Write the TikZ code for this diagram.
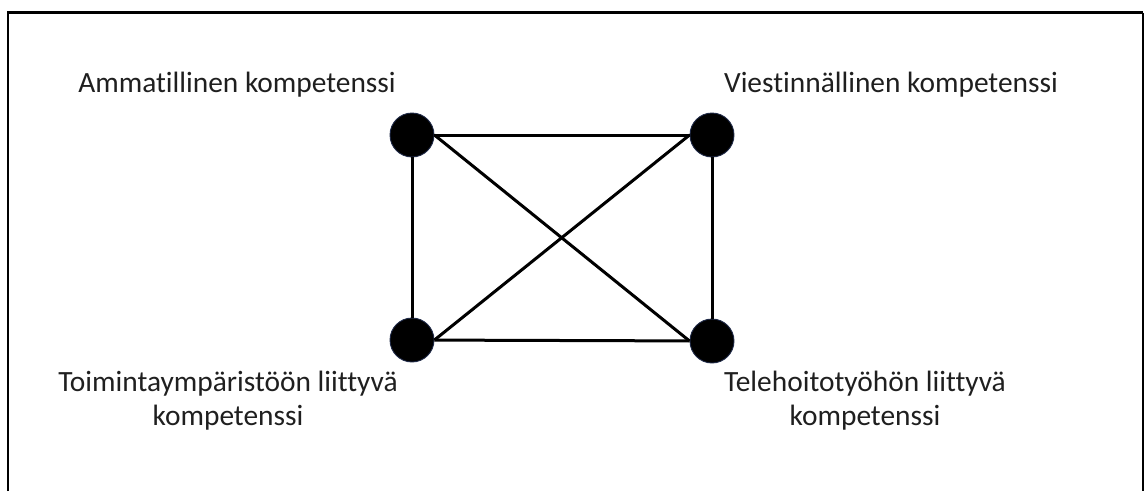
\documentclass[tikz,border=0pt]{standalone}
\usepackage{fontspec}
\setmainfont{Carlito}[Ligatures=NoCommon]
\definecolor{rim}{HTML}{1F2A48}
\begin{document}
\begin{tikzpicture}[x=1pt,y=-1pt,
  vertex/.style={circle,fill=black,draw=rim,line width=0.9pt,minimum size=44pt,inner sep=0pt},
  link/.style={line width=3pt,black},
  label/.style={font=\fontsize{29.4}{34}\selectfont,align=center,inner sep=0pt,anchor=base,text=black!88}]
  \useasboundingbox (0,0) rectangle (1146,491);
  % outer frame (open at the bottom edge)
  \draw[line width=2.6pt] (8,491) -- (8,12.5) -- (1143,12.5);
  \draw[line width=1.6pt] (1143,12.5) -- (1143,491);

  % the four competence areas
  \node[vertex] (a) at (412,135) {};
  \node[vertex] (b) at (712,135) {};
  \node[vertex] (c) at (412,340) {};
  \node[vertex] (d) at (712,341) {};

  % connections between every pair
  \draw[link] (a) -- (b);
  \draw[link] (c) -- (d);
  \draw[link] (a) -- (c);
  \draw[link] (b) -- (d);
  \draw[link] (a.east) -- (d.west);
  \draw[link] (b.west) -- (c.east);

  % labels (base anchor of a two-line label sits on its last line)
  \node[label] (la) at (237,92) {Ammatillinen kompetenssi};
  \node[label] (lb) at (891,92) {Viestinnällinen kompetenssi};
  \node[label] (lc) at (228,425) {Toimintaympäristöön liittyvä\\kompetenssi};
  \node[label] (ld) at (865,425) {Telehoitotyöhön liittyvä\\kompetenssi};
\end{tikzpicture}
\end{document}
